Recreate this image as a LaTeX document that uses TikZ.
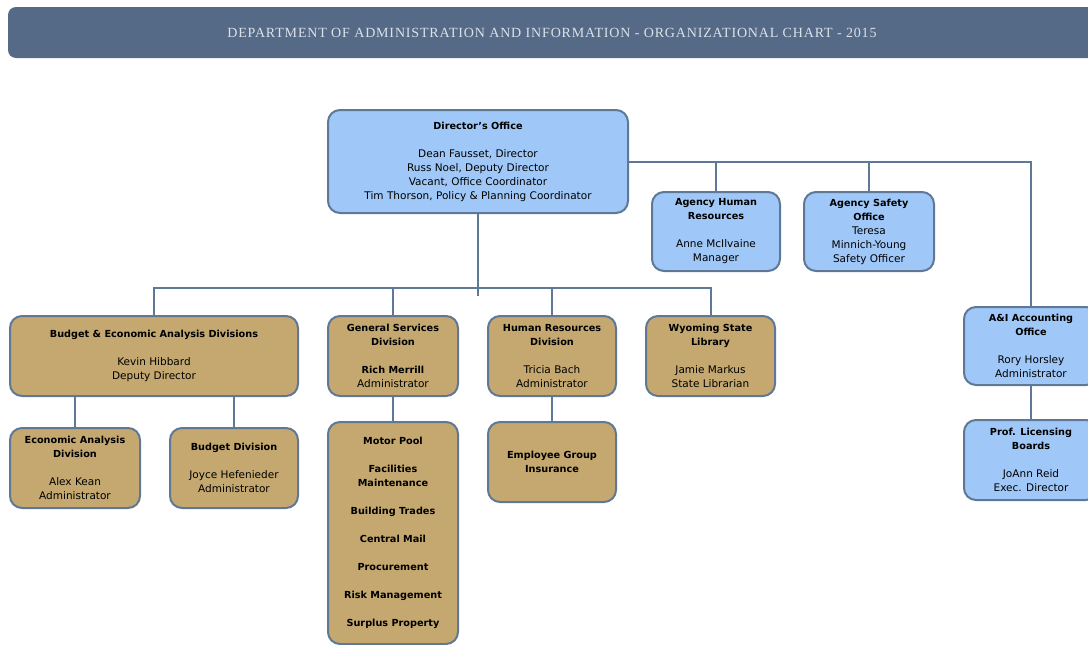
\documentclass[tikz,border=0pt]{standalone}
\usepackage{fontspec}
\setmainfont{DejaVu Sans}
\newfontfamily\headfont{Liberation Serif}[LetterSpace=6.0]
\definecolor{headbar}{HTML}{546A87}
\definecolor{headtext}{HTML}{DCE1E8}
\definecolor{bluefill}{HTML}{9FC8F8}
\definecolor{tanfill}{HTML}{C4A870}
\definecolor{edgecol}{HTML}{5F7896}
\newcommand\hd{\fontsize{9.7}{14}\selectfont\bfseries}
\tikzset{
  unit/.style={draw=edgecol, line width=2pt, rounded corners=12pt, align=center,
    inner sep=0pt, font=\fontsize{10.5}{14}\selectfont, text=black},
  office/.style={unit, fill=bluefill},
  division/.style={unit, fill=tanfill},
  link/.style={draw=edgecol, line width=2pt}
}
\begin{document}
\begin{tikzpicture}[x=1pt,y=-1pt]
\useasboundingbox (0,0) rectangle (1088,645);
\clip (0,0) rectangle (1088,645);
% header bar
\fill[headbar, rounded corners=8pt] (8,7) rectangle (1100,58);
\node[text=headtext, font=\headfont\fontsize{14}{16}\selectfont] (head) at (552,33)
  {DEPARTMENT OF ADMINISTRATION AND INFORMATION - ORGANIZATIONAL CHART - 2015};
% top level
\node[office, minimum width=300pt, minimum height=103pt] (dir) at (478,161.5)
  {\hd Director's Office\\[14pt]Dean Fausset, Director\\Russ Noel, Deputy Director\\Vacant, Office Coordinator\\Tim Thorson, Policy \& Planning Coordinator};
\node[office, minimum width=128pt, minimum height=79pt] (ahr) at (716,231.5)
  {\hd Agency Human\\\hd Resources\\[14pt]Anne McIlvaine\\Manager};
\node[office, minimum width=130pt, minimum height=79pt] (aso) at (869,231.5)
  {\hd Agency Safety\\\hd Office\\Teresa\\Minnich-Young\\Safety Officer};
\node[office, minimum width=134pt, minimum height=78pt] (aia) at (1031,346)
  {\hd A\&I Accounting\\\hd Office\\[14pt]Rory Horsley\\Administrator};
\node[office, minimum width=134pt, minimum height=80pt] (plb) at (1031,460)
  {\hd Prof. Licensing\\\hd Boards\\[14pt]JoAnn Reid\\Exec. Director};
% divisions
\node[division, minimum width=288pt, minimum height=80pt] (bead) at (154,356)
  {\hd Budget \& Economic Analysis Divisions\\[14pt]Kevin Hibbard\\Deputy Director};
\node[division, minimum width=130pt, minimum height=80pt] (gsd) at (393,356)
  {\hd General Services\\\hd Division\\[14pt]\hd Rich Merrill\\Administrator};
\node[division, minimum width=128pt, minimum height=80pt] (hrd) at (552,356)
  {\hd Human Resources\\\hd Division\\[14pt]Tricia Bach\\Administrator};
\node[division, minimum width=129pt, minimum height=80pt] (wsl) at (710.5,356)
  {\hd Wyoming State\\\hd Library\\[14pt]Jamie Markus\\State Librarian};
% sections
\node[division, minimum width=130pt, minimum height=80pt] (ead) at (75,468)
  {\hd Economic Analysis\\\hd Division\\[14pt]Alex Kean\\Administrator};
\node[division, minimum width=128pt, minimum height=80pt] (bud) at (234,468)
  {\hd Budget Division\\[14pt]Joyce Hefenieder\\Administrator};
\node[division, minimum width=130pt, minimum height=222pt, font=\hd] (gsub) at (393,533)
  {Motor Pool\\[14pt]Facilities\\Maintenance\\[14pt]Building Trades\\[14pt]Central Mail\\[14pt]Procurement\\[14pt]Risk Management\\[14pt]Surplus Property};
\node[division, minimum width=128pt, minimum height=80pt] (egi) at (552,462)
  {\hd Employee Group\\\hd Insurance};
% connectors
\coordinate (bus) at (0,288);
\coordinate (dirtail) at (478,296);
\draw[link] (dir.south) -- (dirtail);
\draw[link] (bead.north) -- (bead.north |- bus) -- (wsl.north |- bus) -- (wsl.north);
\draw[link] (gsd.north) -- (gsd.north |- bus);
\draw[link] (hrd.north) -- (hrd.north |- bus);
\draw[link] (dir.east) -- (aia.north |- dir.east) -- (aia.north);
\draw[link] (ahr.north) -- (ahr.north |- dir.east);
\draw[link] (aso.north) -- (aso.north |- dir.east);
\draw[link] (aia.south) -- (plb.north);
\draw[link] (ead.north) -- (ead.north |- bead.south);
\draw[link] (bud.north) -- (bud.north |- bead.south);
\draw[link] (gsd.south) -- (gsub.north);
\draw[link] (hrd.south) -- (egi.north);
\end{tikzpicture}
\end{document}
